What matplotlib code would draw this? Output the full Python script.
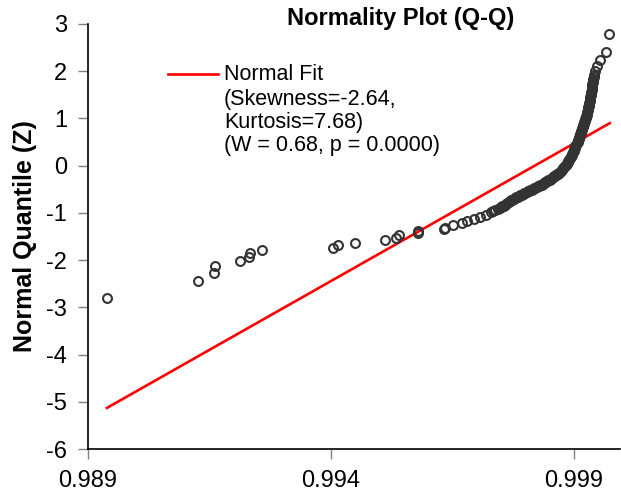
import matplotlib
matplotlib.use("Agg")
import matplotlib.pyplot as plt
from matplotlib.lines import Line2D

plt.rcParams['font.family'] = ['Liberation Sans', 'DejaVu Sans']
plt.rcParams['axes.unicode_minus'] = False

obs_x = [
    0.989385, 0.991257, 0.991599, 0.991619, 0.992134, 0.992319, 0.992333, 0.992574,
    0.994047, 0.994150, 0.994494, 0.995117, 0.995337, 0.995399, 0.995796, 0.995800,
    0.996325, 0.996346, 0.996516, 0.996702, 0.996792, 0.996949, 0.997066, 0.997189,
    0.997286, 0.997333, 0.997385, 0.997436, 0.997477, 0.997529, 0.997580, 0.997632,
    0.997683, 0.997737, 0.997790, 0.997844, 0.997897, 0.997951, 0.998002, 0.998053,
    0.998105, 0.998156, 0.998208, 0.998259, 0.998311, 0.998362, 0.998407, 0.998455,
    0.998500, 0.998547, 0.998588, 0.998630, 0.998671, 0.998712, 0.998753, 0.998794,
    0.998835, 0.998870, 0.998903, 0.998938, 0.998965, 0.998994, 0.999021, 0.999047,
    0.999076, 0.999103, 0.999123, 0.999144, 0.999165, 0.999185, 0.999206, 0.999226,
    0.999243, 0.999261, 0.999278, 0.999292, 0.999305, 0.999319, 0.999329, 0.999340,
    0.999350, 0.999364, 0.999377, 0.999387, 0.999397, 0.999412, 0.999432, 0.999479,
    0.999545, 0.999658, 0.999725,
    0.997503, 0.997555, 0.997606, 0.997658, 0.997710, 0.997764, 0.997817, 0.997871,
    0.997924, 0.997977, 0.998028, 0.998079, 0.998131, 0.998182, 0.998234, 0.998285,
    0.998337, 0.998385, 0.998431, 0.998478, 0.998524, 0.998568, 0.998609, 0.998651,
    0.998692, 0.998733, 0.998774, 0.998815, 0.998853, 0.998887, 0.998921, 0.998952,
    0.998980, 0.999008, 0.999034, 0.999062, 0.999090, 0.999113, 0.999134, 0.999155,
    0.999175, 0.999196, 0.999216, 0.999235, 0.999252, 0.999270, 0.999285, 0.999299,
    0.999312, 0.999324, 0.999335, 0.999345, 0.999357, 0.999371, 0.999382, 0.999392,
    0.999405,
]
obs_z = [
    -2.80, -2.44, -2.27, -2.12, -2.02, -1.94, -1.86, -1.79,
    -1.74, -1.69, -1.63, -1.58, -1.53, -1.47, -1.42, -1.38,
    -1.35, -1.31, -1.26, -1.22, -1.17, -1.12, -1.08, -1.04,
    -0.98, -0.96, -0.943, -0.919, -0.903, -0.864, -0.826, -0.786,
    -0.748, -0.718, -0.689, -0.659, -0.629, -0.600, -0.572, -0.547,
    -0.519, -0.494, -0.466, -0.441, -0.413, -0.388, -0.356, -0.324,
    -0.293, -0.261, -0.229, -0.197, -0.166, -0.134, -0.085, -0.034,
    0.014, 0.072, 0.127, 0.184, 0.247, 0.311, 0.374, 0.438,
    0.501, 0.565, 0.629, 0.692, 0.756, 0.819, 0.883, 0.946,
    1.010, 1.073, 1.137, 1.200, 1.264, 1.327, 1.391, 1.455,
    1.518, 1.603, 1.687, 1.762, 1.836, 1.920, 2.011, 2.111,
    2.238, 2.414, 2.790,
    -0.884, -0.845, -0.806, -0.767, -0.733, -0.704, -0.674, -0.644,
    -0.615, -0.586, -0.560, -0.533, -0.507, -0.480, -0.454, -0.427,
    -0.401, -0.372, -0.340, -0.309, -0.277, -0.245, -0.213, -0.182,
    -0.150, -0.110, -0.060, -0.010, 0.043, 0.100, 0.156, 0.216,
    0.279, 0.343, 0.406, 0.470, 0.533, 0.597, 0.661, 0.724,
    0.788, 0.851, 0.915, 0.978, 1.042, 1.105, 1.169, 1.232,
    1.296, 1.359, 1.423, 1.487, 1.560, 1.645, 1.725, 1.799,
    1.878,
]

# normal fit line endpoints
fit_x = [0.98939, 0.99974]
fit_z = [-5.13, 0.90]

title = "Normality Plot (Q-Q)"
ylabel = "Normal Quantile (Z)"
legend_label = "Normal Fit"
legend_extra = "(Skewness=-2.64,\nKurtosis=7.68)\n(W = 0.68, p = 0.0000)"
xticks = [0.989, 0.994, 0.999]
xticklabels = ["0.989", "0.994", "0.999"]
yticks = [-6, -5, -4, -3, -2, -1, 0, 1, 2, 3]

W, H = 621, 494
fig = plt.figure(figsize=(W / 100, H / 100), dpi=100)
ax = fig.add_axes([88 / W, 1 - 449 / H, (620 - 88) / W, (449 - 24) / H])

ax.plot(fit_x, fit_z, color="#ff0000", lw=1.9, zorder=2)
ax.plot(obs_x, obs_z, linestyle="none", marker="o", markersize=6.4,
        markerfacecolor="none", markeredgecolor="#333333", markeredgewidth=1.5, zorder=3)

ax.set_xlim(0.989, 0.99995)
ax.set_ylim(-6, 3)
ax.set_xticks(xticks)
ax.set_xticklabels(xticklabels)
ax.set_yticks(yticks)
ax.tick_params(axis="both", direction="out", length=7, width=1, color="#808080",
               labelsize=17, pad=8, labelcolor="black")
for s in ["top", "right"]:
    ax.spines[s].set_visible(False)
for s in ["left", "bottom"]:
    ax.spines[s].set_linewidth(1.2)
    ax.spines[s].set_color("black")

fig.text(25 / W, 1 - 236 / H, ylabel, rotation=90, ha="center", va="center",
         fontsize=18, fontweight="bold")
fig.text(401 / W, 1 - 19 / H, title, ha="center", va="center",
         fontsize=17, fontweight="bold")

# legend drawn manually
fig.add_artist(Line2D([168 / W, 218 / W], [1 - 74 / H, 1 - 74 / H],
                      color="#ff0000", lw=1.9, transform=fig.transFigure))
fig.text(224 / W, 1 - 74 / H, legend_label, ha="left", va="center", fontsize=15.5)
fig.text(224 / W, 1 - 89 / H, legend_extra, ha="left", va="top", fontsize=15.5,
         linespacing=1.14)

fig.savefig("out.png", dpi=100)
